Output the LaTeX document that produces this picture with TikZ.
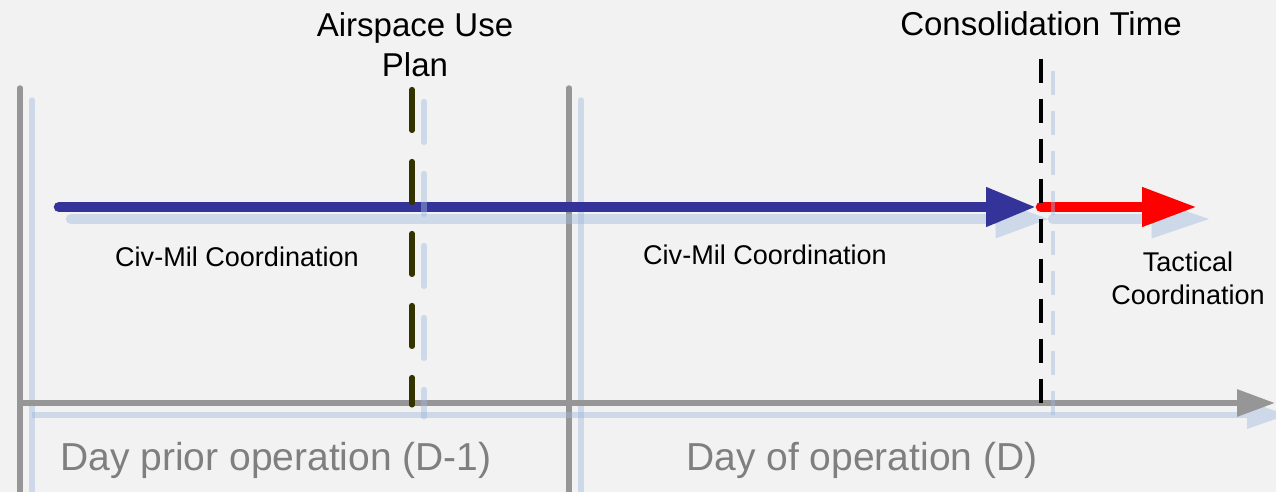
\documentclass[tikz,border=0pt]{standalone}
\usepackage{fontspec}
\setmainfont{Liberation Sans}
\usetikzlibrary{arrows.meta}

\definecolor{bgc}{HTML}{F2F2F2}
\definecolor{axisgray}{HTML}{969696}
\definecolor{daygray}{HTML}{7F7F7F}
\definecolor{flowblue}{HTML}{333399}
\definecolor{planolive}{HTML}{333300}
\definecolor{ghostc}{RGB}{160,185,220}

\begin{document}
\begin{tikzpicture}[x=0.02cm, y=-0.02cm,
    ghost/.style={draw=ghostc, opacity=0.45, transform canvas={shift={(12,12)}}},
    daymark/.style={draw=axisgray, line width=3.1pt, line cap=round},
    timeaxis/.style={line width=3.4pt},
    planline/.style={line width=2.9pt, line cap=round, dash pattern=on 0.82cm off 0.62cm},
    consline/.style={line width=2pt, dash pattern=on 0.48cm off 0.32cm},
    flow/.style={line width=6pt, line cap=round},
    lbl/.style={font=\fontsize{15.4}{18.8}\selectfont, inner sep=0pt, anchor=base, align=center},
    toplbl/.style={font=\fontsize{18.8}{22.8}\selectfont, inner sep=0pt, anchor=base, align=center},
    daylbl/.style={font=\fontsize{22.2}{26}\selectfont, text=daygray, inner sep=0pt, anchor=base}
]
% background and frame
\fill[bgc] (0,0) rectangle (1276,492);
\useasboundingbox (0,0) rectangle (1276,492);
\clip (0,0) rectangle (1276,492);

% key points of the timeline
\coordinate (prevtop) at (20,88);
\coordinate (prevbot) at (20,500);
\coordinate (daytop) at (569,88);
\coordinate (daybot) at (569,500);
\coordinate (axisstart) at (20,403);
\coordinate (axisend) at (1275,403);
\coordinate (auptop) at (412,89.5);
\coordinate (aupbot) at (412,405);
\coordinate (constop) at (1041,59);
\coordinate (consbot) at (1041,405);
\coordinate (flowstart) at (59,207);
\coordinate (flowend) at (1036,207);
\coordinate (cons) at (1041,207);
\coordinate (tacend) at (1197,207);

% day boundaries
\draw[daymark, ghost] (prevtop) -- (prevbot);
\draw[daymark] (prevtop) -- (prevbot);
\draw[daymark, ghost] (daytop) -- (daybot);
\draw[daymark] (daytop) -- (daybot);

% time axis
\draw[timeaxis, ghost, -{Triangle[length=0.8cm,width=0.56cm,line width=0pt,fill=ghostc]}] (axisstart) -- (axisend);
\draw[timeaxis, draw=axisgray, -{Triangle[length=0.76cm,width=0.52cm,fill=axisgray]}] (axisstart) -- (axisend);

% coordination flows
\draw[flow, ghost, -{Triangle[length=1.05cm,width=0.78cm,line width=0pt,fill=ghostc]}] (flowstart) -- (flowend);
\draw[flow, draw=flowblue, -{Triangle[length=1cm,width=0.74cm,fill=flowblue]}] (flowstart) -- (flowend);
\draw[flow, ghost, -{Triangle[length=1.15cm,width=0.78cm,line width=0pt,fill=ghostc]}] (cons) -- (tacend);
\draw[flow, draw=red, -{Triangle[length=1.1cm,width=0.74cm,fill=red]}] (cons) -- (tacend);

% milestones
\draw[planline, ghost] (auptop) -- (aupbot);
\draw[planline, draw=planolive] (auptop) -- (aupbot);
\draw[consline, ghost] (constop) -- (consbot);
\draw[consline, draw=black] (constop) -- (consbot);

% labels
\node[toplbl] (auplbl) at (415,77) {Airspace Use\\Plan};
\node[toplbl] (conslbl) at (1041,36) {Consolidation Time};
\node[lbl] (civmil1) at (237,267) {Civ-Mil Coordination};
\node[lbl] (civmil2) at (765,265) {Civ-Mil Coordination};
\node[lbl] (taclbl) at (1188,305) {Tactical\\Coordination};
\node[daylbl] (prevlbl) at (276,471) {Day prior operation (D-1)};
\node[daylbl] (daylbl) at (862,471) {Day of operation (D)};
\end{tikzpicture}
\end{document}
